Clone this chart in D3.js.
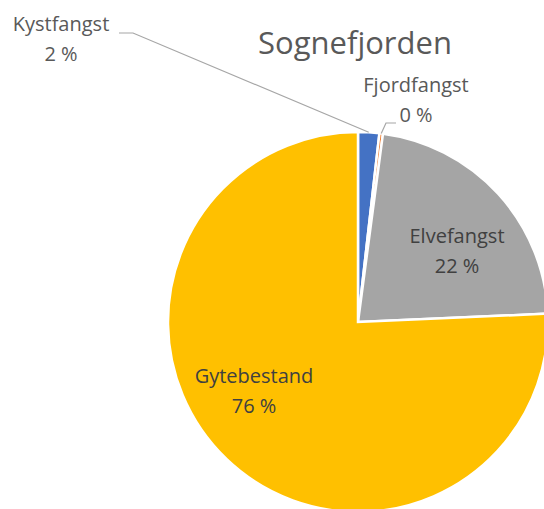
<!DOCTYPE html>
<html>
<head>
<meta charset="utf-8">
<script src="https://cdn.jsdelivr.net/npm/d3@7"></script>
<style>
  body { margin: 0; background: #fff; }
  svg { display: block; font-family: "Open Sans", sans-serif; }
</style>
</head>
<body>
<div id="chart"></div>
<script>
// data
var categories = ["Kystfangst", "Fjordfangst", "Elvefangst", "Gytebestand"];
var values = [1.8, 0.3, 22.2, 75.7];
var percentLabels = ["2 %", "0 %", "22 %", "76 %"];
var colors = ["#4472C4", "#ED7D31", "#A5A5A5", "#FFC000"];

var width = 544, height = 509;
var cx = 358, cy = 322, radius = 190;

var svg = d3.select("#chart").append("svg")
    .attr("width", width)
    .attr("height", height);

svg.append("text")
    .attr("x", 355)
    .attr("y", 54)
    .attr("text-anchor", "middle")
    .style("font-size", "31px")
    .style("fill", "#595959")
    .text("Sognefjorden");

var pie = d3.pie().sort(null).value(function (d) { return d; });
var arcs = pie(values);

var arc = d3.arc().innerRadius(0).outerRadius(radius);
var edge = d3.arc().innerRadius(radius).outerRadius(radius);

var g = svg.append("g").attr("transform", "translate(" + cx + "," + cy + ")");

g.selectAll("path.slice")
    .data(arcs)
    .enter()
    .append("path")
    .attr("class", "slice")
    .attr("d", arc)
    .attr("fill", function (d, i) { return colors[i]; })
    .style("stroke", "#fff")
    .style("stroke-width", 2.5);

// leader lines for the two small slices
var kyst = edge.centroid(arcs[0]);
var fjord = edge.centroid(arcs[1]);
var leaders = [
    [[119 - cx, 33 - cy], [133 - cx, 33 - cy], kyst],
    [[396 - cx, 123 - cy], [386 - cx, 123 - cy], fjord]
];
g.selectAll("path.leader")
    .data(leaders)
    .enter()
    .append("path")
    .attr("class", "leader")
    .attr("d", d3.line())
    .attr("fill", "none")
    .style("stroke", "#a6a6a6")
    .style("stroke-width", 1.2);

// label positions (name line baseline; value sits one line below)
var labelPos = [
    { x: 61, y: 31, color: "#595959" },
    { x: 416, y: 92, color: "#595959" },
    { x: 457, y: 243, color: "#404040" },
    { x: 254, y: 383, color: "#404040" }
];

var labels = svg.selectAll("g.label")
    .data(categories)
    .enter()
    .append("g")
    .attr("class", "label")
    .attr("transform", function (d, i) { return "translate(" + labelPos[i].x + "," + labelPos[i].y + ")"; })
    .style("fill", function (d, i) { return labelPos[i].color; })
    .style("font-size", "20px");

labels.append("text")
    .attr("text-anchor", "middle")
    .text(function (d) { return d; });

labels.append("text")
    .attr("text-anchor", "middle")
    .attr("y", 30)
    .text(function (d, i) { return percentLabels[i]; });
</script>
</body>
</html>
